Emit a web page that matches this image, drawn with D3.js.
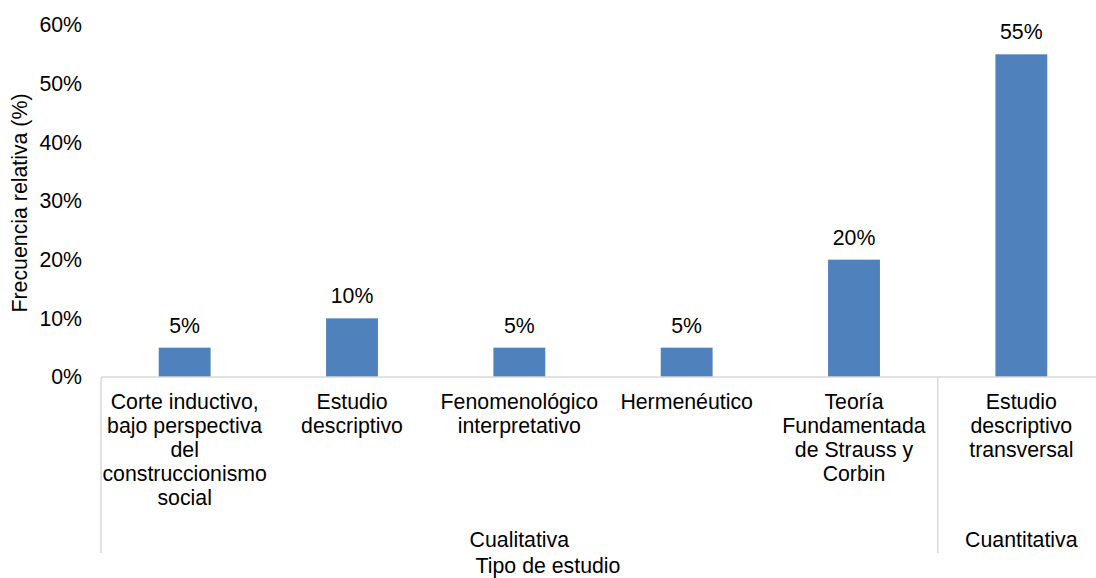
<!DOCTYPE html>
<html><head><meta charset="utf-8">
<script src="https://cdn.jsdelivr.net/npm/d3@7/dist/d3.min.js"></script>
<style>body{margin:0;background:#fff;} svg{display:block;font-family:"Liberation Sans",Arial,sans-serif;}</style>
</head><body><svg id="c" width="1096" height="578"></svg>
<script>
const categories = [
  ["Corte inductivo,","bajo perspectiva","del","construccionismo","social"],
  ["Estudio","descriptivo"],
  ["Fenomenológico","interpretativo"],
  ["Hermenéutico"],
  ["Teoría","Fundamentada","de Strauss y","Corbin"],
  ["Estudio","descriptivo","transversal"]
];
const values = [0.05, 0.10, 0.05, 0.05, 0.20, 0.55];
const valueLabels = ["5%","10%","5%","5%","20%","55%"];
const groups = [{name:"Cualitativa", start:0, end:5},{name:"Cuantitativa", start:5, end:6}];
const yTicks = [0,0.1,0.2,0.3,0.4,0.5,0.6];

const FS = 21.3;
const svg = d3.select("#c");
const x0 = 101, x1 = 1105, yTop = 25, yBot = 377;
const idx = d3.range(categories.length);
const x = d3.scaleBand().domain(idx).range([x0, x1]).paddingInner(0.69).paddingOuter(0.345);
const xEdge = d3.scaleLinear().domain([0, categories.length]).range([x0, x1]);
const y = d3.scaleLinear().domain([0, 0.6]).range([yBot, yTop]);

// y tick labels
svg.append("g").selectAll("text").data(yTicks).join("text")
  .attr("x", 82).attr("y", d => y(d)).attr("dy", "0.35em")
  .attr("text-anchor", "end").attr("font-size", FS).attr("fill", "#000")
  .text(d => d3.format(".0%")(d));

// bars
svg.append("g").selectAll("rect").data(values).join("rect")
  .attr("x", (d,i) => x(i)).attr("width", x.bandwidth())
  .attr("y", d => y(d)).attr("height", d => yBot - y(d))
  .attr("fill", "#4f81bd");

// value labels
svg.append("g").selectAll("text").data(values).join("text")
  .attr("x", (d,i) => x(i) + x.bandwidth()/2).attr("y", d => y(d) - 15)
  .attr("text-anchor", "middle").attr("font-size", FS).attr("fill", "#000")
  .text((d,i) => valueLabels[i]);

// axis line
svg.append("line").attr("x1", x0).attr("x2", x1).attr("y1", yBot).attr("y2", yBot)
  .attr("stroke", "#d9d9d9").attr("stroke-width", 1.5);

// group separators
const seps = [0, 5, 6];
svg.append("g").selectAll("line").data(seps).join("line")
  .attr("x1", d => xEdge(d)).attr("x2", d => xEdge(d))
  .attr("y1", yBot).attr("y2", 553)
  .attr("stroke", "#d9d9d9").attr("stroke-width", 1.5);

// category labels
const cg = svg.append("g").selectAll("text").data(categories).join("text")
  .attr("text-anchor", "middle").attr("font-size", FS).attr("fill", "#000");
cg.each(function(lines, i) {
  d3.select(this).selectAll("tspan").data(lines).join("tspan")
    .attr("x", x(i) + x.bandwidth()/2).attr("y", (l, j) => 409 + j * 24).text(l => l);
});

// group labels
svg.append("g").selectAll("text").data(groups).join("text")
  .attr("x", d => (xEdge(d.start) + xEdge(d.end)) / 2).attr("y", 547)
  .attr("text-anchor", "middle").attr("font-size", FS).attr("fill", "#000")
  .text(d => d.name);

// axis titles
svg.append("text").attr("x", 548).attr("y", 573).attr("text-anchor", "middle")
  .attr("font-size", FS).attr("fill", "#000").text("Tipo de estudio");
svg.append("text").attr("transform", "translate(27,203) rotate(-90)")
  .attr("text-anchor", "middle").attr("font-size", FS).attr("fill", "#000")
  .text("Frecuencia relativa (%)");
</script></body></html>
